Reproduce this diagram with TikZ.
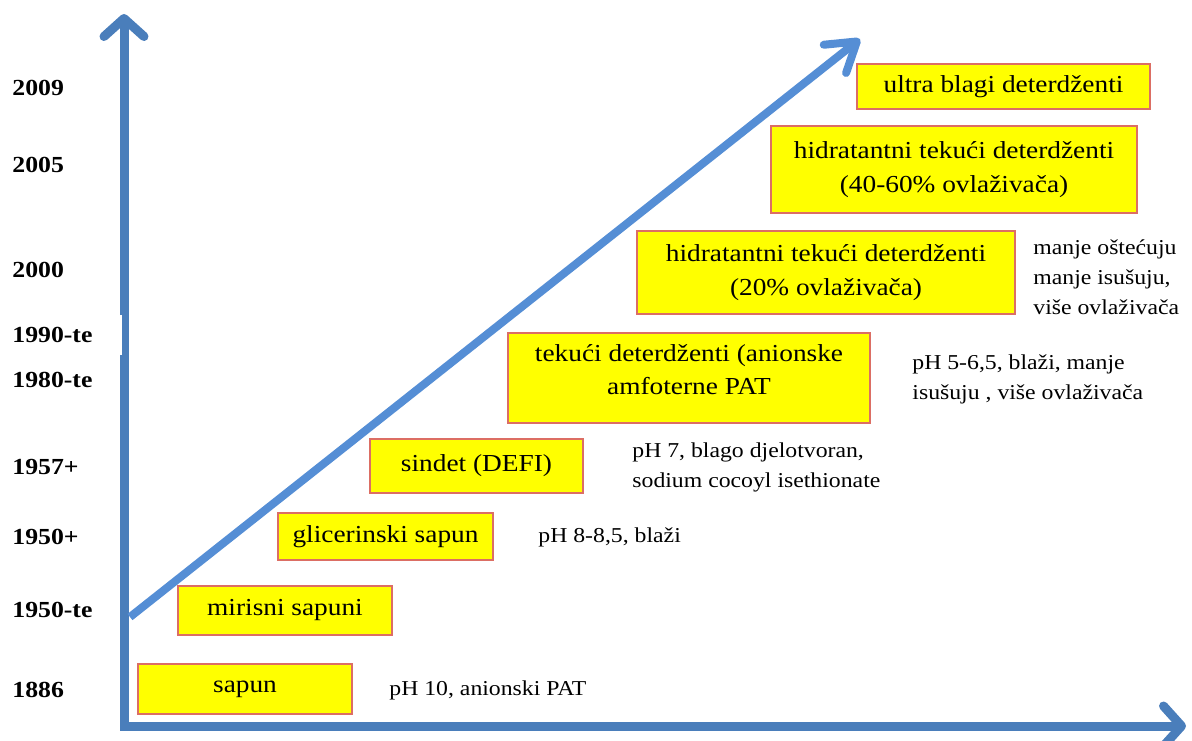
\documentclass[tikz,border=0pt]{standalone}
\usepackage{fontspec}
\setmainfont{Liberation Serif}[FakeStretch=1.12]
\usetikzlibrary{arrows.meta}
\definecolor{axisblue}{RGB}{74,126,187}
\definecolor{arrowblue}{RGB}{85,142,213}
\definecolor{boxyellow}{RGB}{255,255,0}
\definecolor{boxedge}{RGB}{220,110,100}

\tikzset{
  stagebox/.style={draw=boxedge, fill=boxyellow, line width=0.6pt, align=center,
    inner sep=0pt, font=\fontsize{12.2}{17}\selectfont},
  note/.style={anchor=west, align=left, inner sep=0pt, font=\fontsize{10.6}{15}\selectfont},
  year/.style={anchor=west, inner sep=0pt, font=\fontsize{11.5}{13}\selectfont\bfseries},
}

\begin{document}
\begin{tikzpicture}[x=0.5pt, y=-0.5pt]
  \useasboundingbox (0,0) rectangle (1192,740);

  % Osi
  \coordinate (ytip) at (124,14);
  \coordinate (origin) at (124,726);
  \coordinate (xtip) at (1186,726);
  \draw[axisblue, line width=4.5pt, line join=miter,
    {Straight Barb[length=9pt,width=20pt,round]}-{Straight Barb[length=9pt,width=20pt,round]}]
    (ytip) -- (origin) -- (xtip);
  \fill[white] (100,315) rectangle (122,355);

  % Razvoj (dijagonala)
  \coordinate (dstart) at (130,617);
  \coordinate (dend) at (860,39);
  \draw[arrowblue, line width=4pt, -{Straight Barb[length=14pt,width=18pt,round]}] (dstart) -- (dend);

  % Godine
  \foreach \y/\god in {88/2009, 165/2005, 270/2000, 335/1990-te, 380/1980-te,
                       467/1957+, 537/1950+, 610/1950-te, 690/1886} {
    \node[year] (y\god) at (12,\y) {\god};
  }

  % Proizvodi
  \node[stagebox, minimum width=107pt, minimum height=25pt] (sapun) at (245,689) {sapun};
  \node[stagebox, minimum width=107pt, minimum height=24.5pt] (mirisni) at (285,610.5) {mirisni sapuni};
  \node[stagebox, minimum width=107.5pt, minimum height=23.5pt] (glicerin) at (385.5,536.5) {glicerinski sapun};
  \node[stagebox, minimum width=106.5pt, minimum height=27pt] (sindet) at (476.5,466) {sindet (DEFI)};
  \node[stagebox, minimum width=181pt, minimum height=45pt, text depth=8.5pt] (tekuci) at (689,378)
    {tekući deterdženti (anionske\\amfoterne PAT};
  \node[stagebox, minimum width=189pt, minimum height=41.5pt] (hidra20) at (826,272.5)
    {hidratantni tekući deterdženti\\(20\% ovlaživača)};
  \node[stagebox, minimum width=183pt, minimum height=43.5pt] (hidra40) at (954,169.5)
    {hidratantni tekući deterdženti\\(40-60\% ovlaživača)};
  \node[stagebox, minimum width=146.5pt, minimum height=22.5pt] (ultra) at (1003.5,86.5)
    {ultra blagi deterdženti};

  % Svojstva
  \node[note] (nsapun) at (389,690) {pH 10, anionski PAT};
  \node[note] (nglicerin) at (538,537) {pH 8-8,5, blaži};
  \node[note] (nsindet) at (632,467) {pH 7, blago djelotvoran,\\sodium cocoyl isethionate};
  \node[note] (ntekuci) at (912,379) {pH 5-6,5, blaži, manje\\isušuju , više ovlaživača};
  \node[note] (nhidra) at (1033,277) {manje oštećuju\\manje isušuju,\\više ovlaživača};
\end{tikzpicture}
\end{document}
